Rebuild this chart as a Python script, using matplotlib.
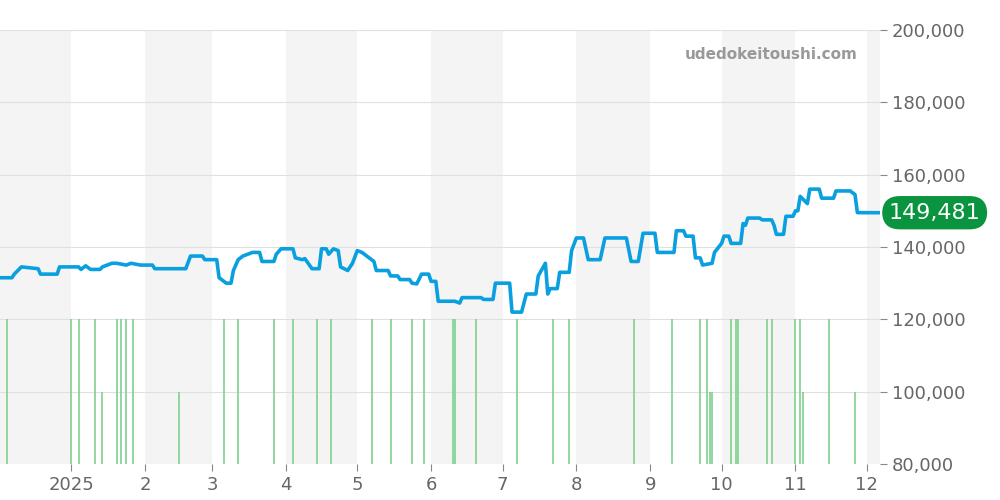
import matplotlib
matplotlib.use("Agg")
import matplotlib.pyplot as plt

# price series: days since 2025-01-01, price (JPY)
days = [-30,-25,-24,-21,-14,-13,-6,-5,3,4,6,8,12,13,17,19,23,25,29,34,35,48,50,55,56,61,62,65,67,68,70,72,76,79,80,85,86,88,93,94,97,98,101,104,105,107,108,110,112,113,116,118,120,122,124,127,128,133,134,137,138,142,143,145,147,150,151,153,154,161,163,164,172,173,177,178,184,185,189,191,195,196,199,200,201,204,205,209,210,212,215,217,222,224,233,235,238,240,245,246,253,254,257,258,261,262,264,265,269,270,273,274,276,277,281,282,283,284,289,290,294,295,296,299,300,303,304,305,306,309,310,314,315,320,321,327,329,330,339]
prices = [131500,131500,132500,134500,134000,132500,132500,134500,134500,133800,134800,133800,133800,134500,135500,135500,135000,135500,135000,135000,134000,134000,137500,137500,136500,136500,131500,130000,130000,133500,136500,137500,138500,138500,136000,136000,138000,139500,139500,137000,136500,136800,134000,134000,139500,139500,138000,139500,139000,134500,133500,135500,139000,138500,137500,136000,133500,133500,132000,132000,131000,131000,130000,129800,132500,132500,130500,130500,125000,125000,124500,126000,126000,125500,125500,130000,130000,122000,122000,127000,127000,132000,135500,127000,128500,128500,133000,133000,139000,142500,142500,136500,136500,142500,142500,136000,136000,143800,143800,138500,138500,144500,144500,143000,143000,137000,137000,135000,135500,138500,141000,143000,143000,141000,141000,146500,146000,148000,148000,147500,147500,146000,143500,143500,148500,148500,150000,150000,154000,152000,156000,156000,153500,153500,155500,155500,154500,149500,149481]

vol_full_days = [-27,0,3,10,19,21,23,26,64,70,85,93,103,109,126,134,143,148,160,161,170,187,202,209,236,252,264,267,277,279,280,292,294,304,306,318]
vol_half_days = [13,45,268,269,307,329]

month_days = [0,31,59,90,120,151,181,212,243,273,304,334]
month_labels = ["2025","2","3","4","5","6","7","8","9","10","11","12"]
band_starts = [-31,31,90,151,212,273,334]
band_ends = [0,59,120,181,243,304,365]
last_price = 149481
yticks = list(range(80000, 200001, 20000))

fig = plt.figure(figsize=(10,5), dpi=100)
ax = fig.add_axes([0.0, 0.072, 0.88, 0.868])
xmin, xmax = -30, 339.5
for s, e in zip(band_starts, band_ends):
    ax.axvspan(s, e, color="#f4f4f4", zorder=0, lw=0)
for v in yticks:
    ax.axhline(v, color="#e0e0e0", lw=0.8, zorder=1)
ax.set_xlim(xmin, xmax)
ax.set_ylim(80000, 200000)
ax.set_xticks(month_days)
ax.set_xticklabels(month_labels)
for sp in ax.spines.values():
    sp.set_visible(False)

ax2 = ax.twinx()
ax2.set_ylim(0, 3)
ax2.vlines(vol_full_days, 0, 1, color="#7fd08f", lw=1.2)
ax2.vlines(vol_half_days, 0, 0.5, color="#7fd08f", lw=1.2)
ax2.set_yticks([])
ax2.set_xlim(xmin, xmax)
for sp in ax2.spines.values():
    sp.set_visible(False)

ax3 = ax.twinx()
ax3.set_ylim(80000, 200000)
ax3.set_yticks(yticks)
ax3.set_yticklabels([f"{v:,}" for v in yticks])
ax3.tick_params(axis="y", colors="#888888", labelsize=13, length=5, labelcolor="#666666")
ax.tick_params(axis="x", colors="#888888", labelsize=13, length=5, labelcolor="#666666")
ax.set_yticks([])
for sp in ax3.spines.values():
    sp.set_visible(False)
ax3.plot(days, prices, color="#0aa0e0", lw=2.6, solid_joinstyle="round", zorder=5)
ax3.set_xlim(xmin, xmax)
ax3.text(1.01, last_price, f"{last_price:,}", transform=ax3.get_yaxis_transform(),
         color="white", fontsize=16, va="center", ha="left", clip_on=False, zorder=10,
         bbox=dict(boxstyle="round,pad=0.3,rounding_size=0.8", fc="#0a9440", ec="none"))
ax3.text(0.975, 0.96, "udedokeitoushi.com", transform=ax3.transAxes, ha="right", va="top",
         color="#999999", fontsize=11, fontweight="bold")

fig.savefig("out.png")
